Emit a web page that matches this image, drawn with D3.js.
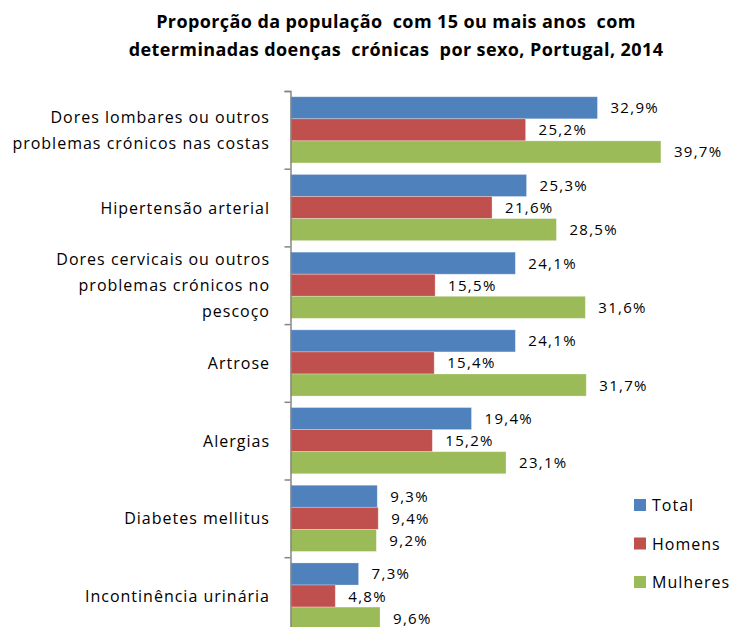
<!DOCTYPE html>
<html>
<head>
<meta charset="utf-8">
<script src="https://cdn.jsdelivr.net/npm/d3@7"></script>
<style>
  body { margin: 0; background: #fff; }
  svg { display: block; font-family: "Open Sans", "Noto Sans", sans-serif; }
</style>
</head>
<body>
<div id="chart"></div>
<script>
const categories = [
  ["Dores lombares ou outros", "problemas crónicos nas costas"],
  ["Hipertensão arterial"],
  ["Dores cervicais ou outros", "problemas crónicos no", "pescoço"],
  ["Artrose"],
  ["Alergias"],
  ["Diabetes mellitus"],
  ["Incontinência urinária"]
];
const seriesNames = ["Total", "Homens", "Mulheres"];
const total    = [32.9, 25.3, 24.1, 24.1, 19.4, 9.3, 7.3];
const homens   = [25.2, 21.6, 15.5, 15.4, 15.2, 9.4, 4.8];
const mulheres = [39.7, 28.5, 31.6, 31.7, 23.1, 9.2, 9.6];
const colors = ["#4F81BD", "#C0504D", "#9BBB59"];
const titleLines = [
  "Proporção da população  com 15 ou mais anos  com",
  "determinadas doenças  crónicas  por sexo, Portugal, 2014"
];

const width = 732, height = 627;
const values = [total, homens, mulheres];

const svg = d3.select("#chart").append("svg")
  .attr("width", width)
  .attr("height", height);

// title
svg.append("g").selectAll("text")
  .data(titleLines)
  .enter().append("text")
  .attr("x", 396)
  .attr("y", (d, i) => 28 + i * 28)
  .attr("text-anchor", "middle")
  .style("white-space", "pre")
  .style("font-weight", "bold")
  .style("font-size", "18px")
  .style("letter-spacing", "0.4px")
  .style("fill", "#000")
  .text(d => d);

const x0 = 290.5;
const x = d3.scaleLinear().domain([0, 40]).range([x0, x0 + 373.2]);
const y = d3.scaleBand().domain(d3.range(categories.length)).range([91, 91 + 77.7 * 7]);
const yInner = d3.scaleBand().domain(d3.range(3)).range([0, y.bandwidth()]).paddingOuter(0.26).paddingInner(0);

// bars
const groups = svg.append("g").selectAll("g")
  .data(categories.map((c, i) => i))
  .enter().append("g")
  .attr("transform", i => `translate(0,${y(i)})`);

groups.selectAll("rect")
  .data(i => values.map((v, s) => ({s: s, v: v[i]})))
  .enter().append("rect")
  .attr("x", x(0))
  .attr("y", d => yInner(d.s))
  .attr("width", d => x(d.v) - x(0))
  .attr("height", yInner.bandwidth())
  .attr("fill", d => colors[d.s])
  .attr("stroke", "rgba(255,255,255,0.35)")
  .attr("stroke-width", 0.8);

groups.selectAll("text.val")
  .data(i => values.map((v, s) => ({s: s, v: v[i]})))
  .enter().append("text")
  .attr("class", "val")
  .attr("x", d => x(d.v) + 13)
  .attr("y", d => yInner(d.s) + yInner.bandwidth() / 2 + 5.5)
  .style("font-size", "15px")
  .style("letter-spacing", "1.3px")
  .style("fill", "#000")
  .text(d => d.v.toFixed(1).replace(".", ",") + "%");

// category labels
groups.each(function(i) {
  const lines = categories[i];
  const g = d3.select(this);
  const lh = 26;
  lines.forEach((l, k) => {
    g.append("text")
      .attr("x", 270)
      .attr("y", y.bandwidth() / 2 + (k - (lines.length - 1) / 2) * lh + 6)
      .attr("text-anchor", "end")
      .style("font-size", "16px")
      .style("letter-spacing", "1px")
      .style("fill", "#000")
      .text(l);
  });
});

// axis
const axis = d3.axisLeft(d3.scaleLinear().domain([0, 7]).range([91, 91 + 77.7 * 7]))
  .tickValues(d3.range(8))
  .tickSize(6)
  .tickFormat("");
svg.append("g")
  .attr("transform", `translate(${x0},0)`)
  .call(axis)
  .call(g => g.selectAll("line, path").attr("stroke", "#868686").attr("stroke-width", 1.5));

// legend
const legend = svg.append("g").selectAll("g")
  .data(seriesNames)
  .enter().append("g")
  .attr("transform", (d, i) => `translate(634,${499 + i * 38.5})`);
legend.append("rect")
  .attr("width", 12).attr("height", 12)
  .attr("fill", (d, i) => colors[i]);
legend.append("text")
  .attr("x", 18).attr("y", 12)
  .style("font-size", "16px")
  .style("letter-spacing", "1px")
  .style("fill", "#000")
  .text(d => d);
</script>
</body>
</html>
